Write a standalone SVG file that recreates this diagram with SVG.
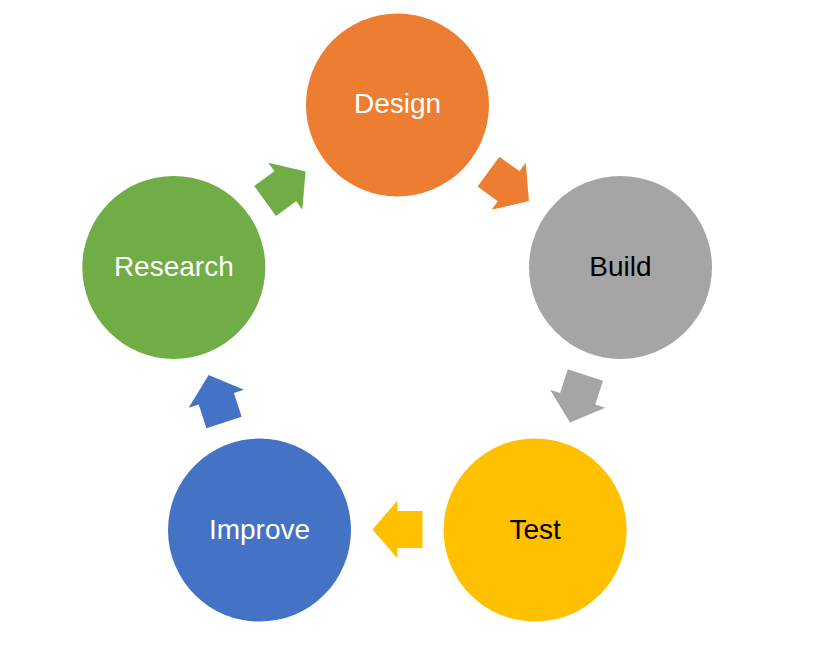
<svg xmlns="http://www.w3.org/2000/svg" width="813" height="656" viewBox="0 0 813 656">
<style>
.lbl{font-family:"Liberation Sans",Arial,sans-serif;font-size:28px;text-anchor:middle}
.w{fill:#fff}.k{fill:#000}
</style>
<defs>
<path id="arr" d="M-25,-18.5 H0 V-29 L25,0 L0,29 V18.5 H-25 Z"/>
</defs>
<rect width="813" height="656" fill="#fff"/>
<g id="connectors">
<use href="#arr" fill="#ED7D31" transform="translate(508.7,186.3) rotate(36)"/>
<use href="#arr" fill="#A5A5A5" transform="translate(577.7,398.7) rotate(108)"/>
<use href="#arr" fill="#FFC000" transform="translate(397.5,529.5) rotate(180)"/>
<use href="#arr" fill="#4472C4" transform="translate(216.3,398.7) rotate(252)"/>
<use href="#arr" fill="#70AD47" transform="translate(285.3,186.3) rotate(324)"/>
</g>
<g id="design"><circle cx="397.5" cy="105" r="91.5" fill="#ED7D31"/><text class="lbl w" x="397.5" y="113">Design</text></g>
<g id="build"><circle cx="620.5" cy="267.4" r="91.5" fill="#A5A5A5"/><text class="lbl k" x="620.5" y="276">Build</text></g>
<g id="test"><circle cx="535.1" cy="530.1" r="91.5" fill="#FFC000"/><text class="lbl k" x="535.1" y="539">Test</text></g>
<g id="improve"><circle cx="259.5" cy="530.1" r="91.5" fill="#4472C4"/><text class="lbl w" x="259.5" y="539">Improve</text></g>
<g id="research"><circle cx="173.8" cy="267.4" r="91.5" fill="#70AD47"/><text class="lbl w" x="173.8" y="276">Research</text></g>
</svg>
